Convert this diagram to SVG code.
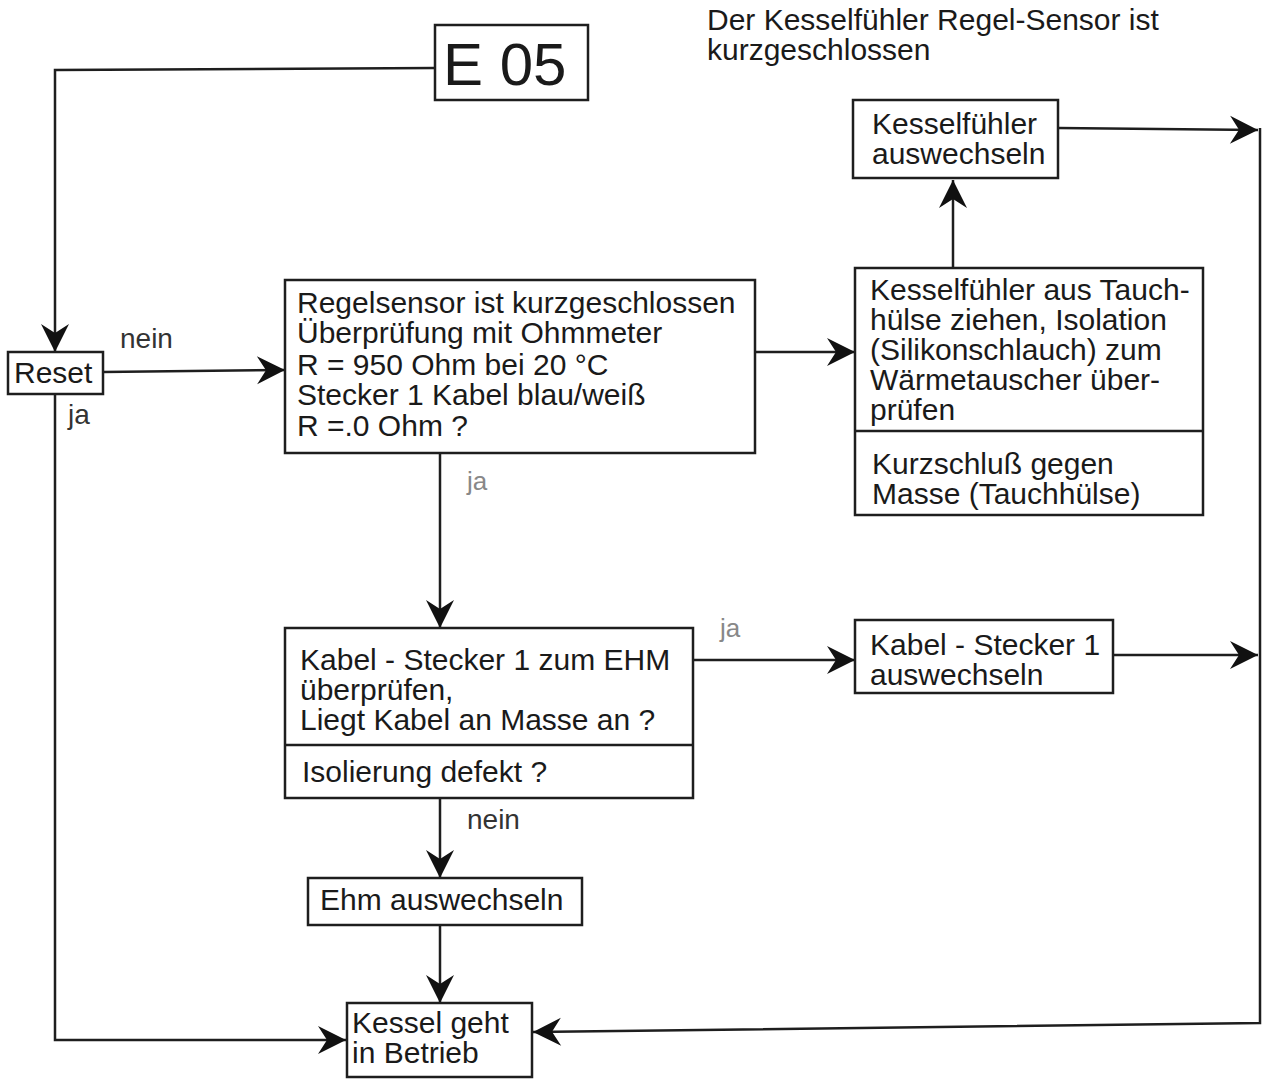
<svg xmlns="http://www.w3.org/2000/svg" width="1265" height="1079" viewBox="0 0 1265 1079">
<style>
  .box{fill:#fff;stroke:#1e1e1e;stroke-width:2.5}
  .div{stroke:#1e1e1e;stroke-width:2.5}
  .t{font-family:"Liberation Sans",Arial,sans-serif;font-size:30px;fill:#1a1a1a}
  .lbl{font-family:"Liberation Sans",Arial,sans-serif;font-size:28px;fill:#333}
  .lg{font-family:"Liberation Sans",Arial,sans-serif;font-size:26px;fill:#888}
  .c{fill:none;stroke:#1e1e1e;stroke-width:2.5}
</style>
<defs>
  <marker id="ah" markerUnits="userSpaceOnUse" viewBox="-30 -15 32 30" refX="0" refY="0" markerWidth="32" markerHeight="30" orient="auto">
    <path d="M0,0 L-28,-14 L-19,0 L-28,14 Z" fill="#111"/>
  </marker>
</defs>
<rect width="1265" height="1079" fill="#fff"/>

<text class="t" x="707" y="30">Der Kesselfühler Regel-Sensor ist</text>
<text class="t" x="707" y="60">kurzgeschlossen</text>

<g id="connectors">
  <path class="c" d="M435,68 L55,70 L55,352" marker-end="url(#ah)"/>
  <path class="c" d="M103,372 L285,370" marker-end="url(#ah)"/>
  <path class="c" d="M55,394 L55,1040 L346,1040" marker-end="url(#ah)"/>
  <path class="c" d="M755,352 L855,352" marker-end="url(#ah)"/>
  <path class="c" d="M953,268 L953,180" marker-end="url(#ah)"/>
  <path class="c" d="M1058,128 L1258,130" marker-end="url(#ah)"/>
  <path class="c" d="M440,453 L440,628" marker-end="url(#ah)"/>
  <path class="c" d="M693,660 L855,660" marker-end="url(#ah)"/>
  <path class="c" d="M1113,655 L1258,655" marker-end="url(#ah)"/>
  <path class="c" d="M440,798 L440,878" marker-end="url(#ah)"/>
  <path class="c" d="M440,925 L440,1003" marker-end="url(#ah)"/>
  <path class="c" d="M1260,128 L1260,1023 L533,1032" marker-end="url(#ah)"/>
  <text class="lbl" x="120" y="348">nein</text>
  <text class="lbl" x="68" y="424">ja</text>
  <text class="lg" x="467" y="490">ja</text>
  <text class="lg" x="720" y="637">ja</text>
  <text class="lbl" x="467" y="829">nein</text>
</g>

<g id="e05">
  <rect class="box" x="435" y="25" width="153" height="75"/>
  <text class="t" x="443" y="85" style="font-size:60px">E 05</text>
</g>

<g id="reset">
  <rect class="box" x="8" y="352" width="95" height="42"/>
  <text class="t" x="14" y="383">Reset</text>
</g>

<g id="regelsensor">
  <rect class="box" x="285" y="280" width="470" height="173"/>
  <text class="t" x="297" y="313">Regelsensor ist kurzgeschlossen</text>
  <text class="t" x="297" y="343">Überprüfung mit Ohmmeter</text>
  <text class="t" x="297" y="375">R = 950 Ohm bei 20 °C</text>
  <text class="t" x="297" y="405">Stecker 1 Kabel blau/weiß</text>
  <text class="t" x="297" y="436">R =.0 Ohm ?</text>
</g>

<g id="tauchhuelse">
  <rect class="box" x="855" y="268" width="348" height="247"/>
  <line class="div" x1="855" y1="431" x2="1203" y2="431"/>
  <text class="t" x="870" y="300">Kesselfühler aus Tauch-</text>
  <text class="t" x="870" y="330">hülse ziehen, Isolation</text>
  <text class="t" x="870" y="360">(Silikonschlauch) zum</text>
  <text class="t" x="870" y="390">Wärmetauscher über-</text>
  <text class="t" x="870" y="420">prüfen</text>
  <text class="t" x="872" y="474">Kurzschluß gegen</text>
  <text class="t" x="872" y="504">Masse (Tauchhülse)</text>
</g>

<g id="kesselfuehler">
  <rect class="box" x="853" y="100" width="205" height="78"/>
  <text class="t" x="872" y="134">Kesselfühler</text>
  <text class="t" x="872" y="164">auswechseln</text>
</g>

<g id="kabel-pruefen">
  <rect class="box" x="285" y="628" width="408" height="170"/>
  <line class="div" x1="285" y1="745" x2="693" y2="745"/>
  <text class="t" x="300" y="670">Kabel - Stecker 1 zum EHM</text>
  <text class="t" x="300" y="700">überprüfen,</text>
  <text class="t" x="300" y="730">Liegt Kabel an Masse an ?</text>
  <text class="t" x="302" y="782">Isolierung defekt ?</text>
</g>

<g id="kabel-wechseln">
  <rect class="box" x="855" y="620" width="258" height="73"/>
  <text class="t" x="870" y="655">Kabel - Stecker 1</text>
  <text class="t" x="870" y="685">auswechseln</text>
</g>

<g id="ehm">
  <rect class="box" x="308" y="878" width="274" height="47"/>
  <text class="t" x="320" y="910">Ehm auswechseln</text>
</g>

<g id="betrieb">
  <rect class="box" x="347" y="1003" width="185" height="74"/>
  <text class="t" x="352" y="1033">Kessel geht</text>
  <text class="t" x="352" y="1063">in Betrieb</text>
</g>
</svg>
